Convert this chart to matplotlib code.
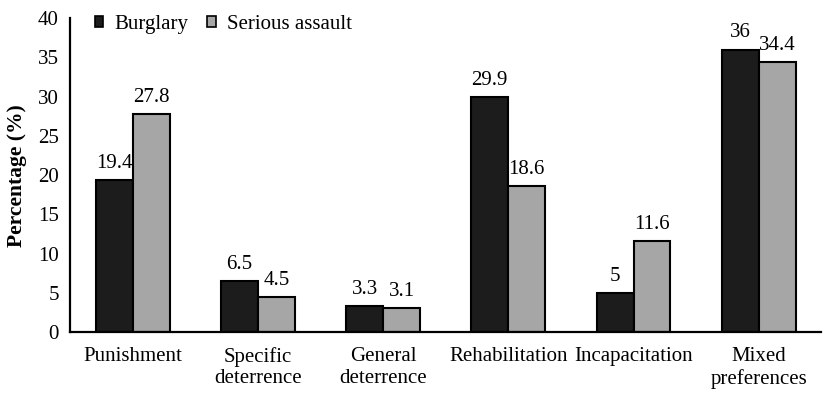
import numpy as np
import matplotlib.pyplot as plt

plt.rcParams["font.family"] = ["Liberation Serif", "DejaVu Serif"]

categories = ["Punishment", "Specific\ndeterrence", "General\ndeterrence",
              "Rehabilitation", "Incapacitation", "Mixed\npreferences"]
burglary = [19.4, 6.5, 3.3, 29.9, 5, 36]
assault = [27.8, 4.5, 3.1, 18.6, 11.6, 34.4]
burglary_lbl = ["19.4", "6.5", "3.3", "29.9", "5", "36"]
assault_lbl = ["27.8", "4.5", "3.1", "18.6", "11.6", "34.4"]

fig = plt.figure(figsize=(8.23, 3.94), dpi=100)
ax = fig.add_axes([0.085, 0.157, 0.913, 0.797])

x = np.arange(len(categories))
w = 0.295
b1 = ax.bar(x - w / 2, burglary, w, color="#1c1c1c", edgecolor="black",
            lw=1.5, label="Burglary")
b2 = ax.bar(x + w / 2, assault, w, color="#a6a6a6", edgecolor="black",
            lw=1.5, label="Serious assault")

for bars, lbls in ((b1, burglary_lbl), (b2, assault_lbl)):
    for r, t in zip(bars, lbls):
        ax.text(r.get_x() + r.get_width() / 2, r.get_height() + 0.9, t,
                ha="center", va="bottom", fontsize=15)

ax.set_xlim(-0.5, 5.5)
ax.set_ylim(0, 40)
ax.set_yticks(range(0, 41, 5))
ax.set_xticks(x)
ax.set_xticklabels(categories, fontsize=15, linespacing=1.15)
ax.tick_params(axis="y", labelsize=15, length=0, pad=8)
ax.tick_params(axis="x", length=0, pad=11)
for s in ("top", "right"):
    ax.spines[s].set_visible(False)
for s in ("left", "bottom"):
    ax.spines[s].set_linewidth(1.6)
ax.set_ylabel("Percentage (%)", fontsize=15.5, fontweight="bold", labelpad=8)

leg = ax.legend(loc="upper left", bbox_to_anchor=(0.008, 1.07), ncol=2,
                frameon=False, fontsize=15, handlelength=0.4,
                handleheight=0.4, handletextpad=0.55, columnspacing=0.9)
for h in leg.legend_handles:
    h.set_linewidth(1.2)

fig.savefig("out.png", dpi=100)
